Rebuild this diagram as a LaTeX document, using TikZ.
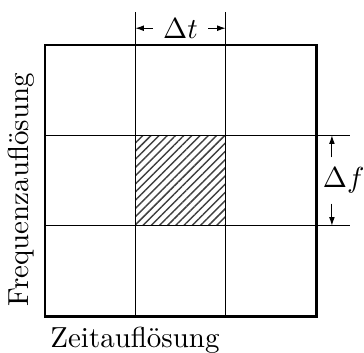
\documentclass[tikz,border=0pt]{standalone}
\usepackage{amsmath, amssymb}
\usepackage{tikz}
\usetikzlibrary{calc, arrows.meta, patterns.meta, positioning}

\begin{document}
\begin{tikzpicture}[>={Latex[length=3pt,width=2pt]}, x=1.1cm, y=1.1cm]
    \useasboundingbox (-0.491,-0.392) rectangle (3.524,3.491);

    % Ô ở giữa được gạch chéo
    \fill[pattern={Lines[angle=45, distance=2pt, line width=0.5pt]}, pattern color=black!75] (1,1) rectangle (2,2);

    % Khung ngoài
    \draw[line width=0.7pt] (0,0) coordinate (O) rectangle (3,3) coordinate (T);

    % Các đường lưới, kéo dài ra ngoài khung
    \draw[line width=0.45pt] (1,0) -- (1,3.355) coordinate (c1);
    \draw[line width=0.45pt] (2,0) -- (2,3.355) coordinate (c2);
    \draw[line width=0.45pt] (0,1) -- (3.37,1) coordinate (r1);
    \draw[line width=0.45pt] (0,2) -- (3.37,2) coordinate (r2);

    % Mũi tên kích thước Delta t
    \node (dt) at (1.5,3.18) {$\Delta t$};
    \draw[->] (dt.west) -- (dt.west -| c1);
    \draw[->] (dt.east) -- (dt.east -| c2);

    % Mũi tên kích thước Delta f
    \node (df) at (3.3,1.5) {$\Delta f$};
    \coordinate (fx) at (3.17,0);
    \draw[->] (df.north -| fx) -- (fx |- r2);
    \draw[->] (df.south -| fx) -- (fx |- r1);

    % Nhãn các trục
    \node[below right, xshift=-1.5pt] (xlab) at (O) {Zeitauflösung};
    \node[rotate=90, anchor=south west] (ylab) at (O) {Frequenzauflösung};

\end{tikzpicture}
\end{document}
